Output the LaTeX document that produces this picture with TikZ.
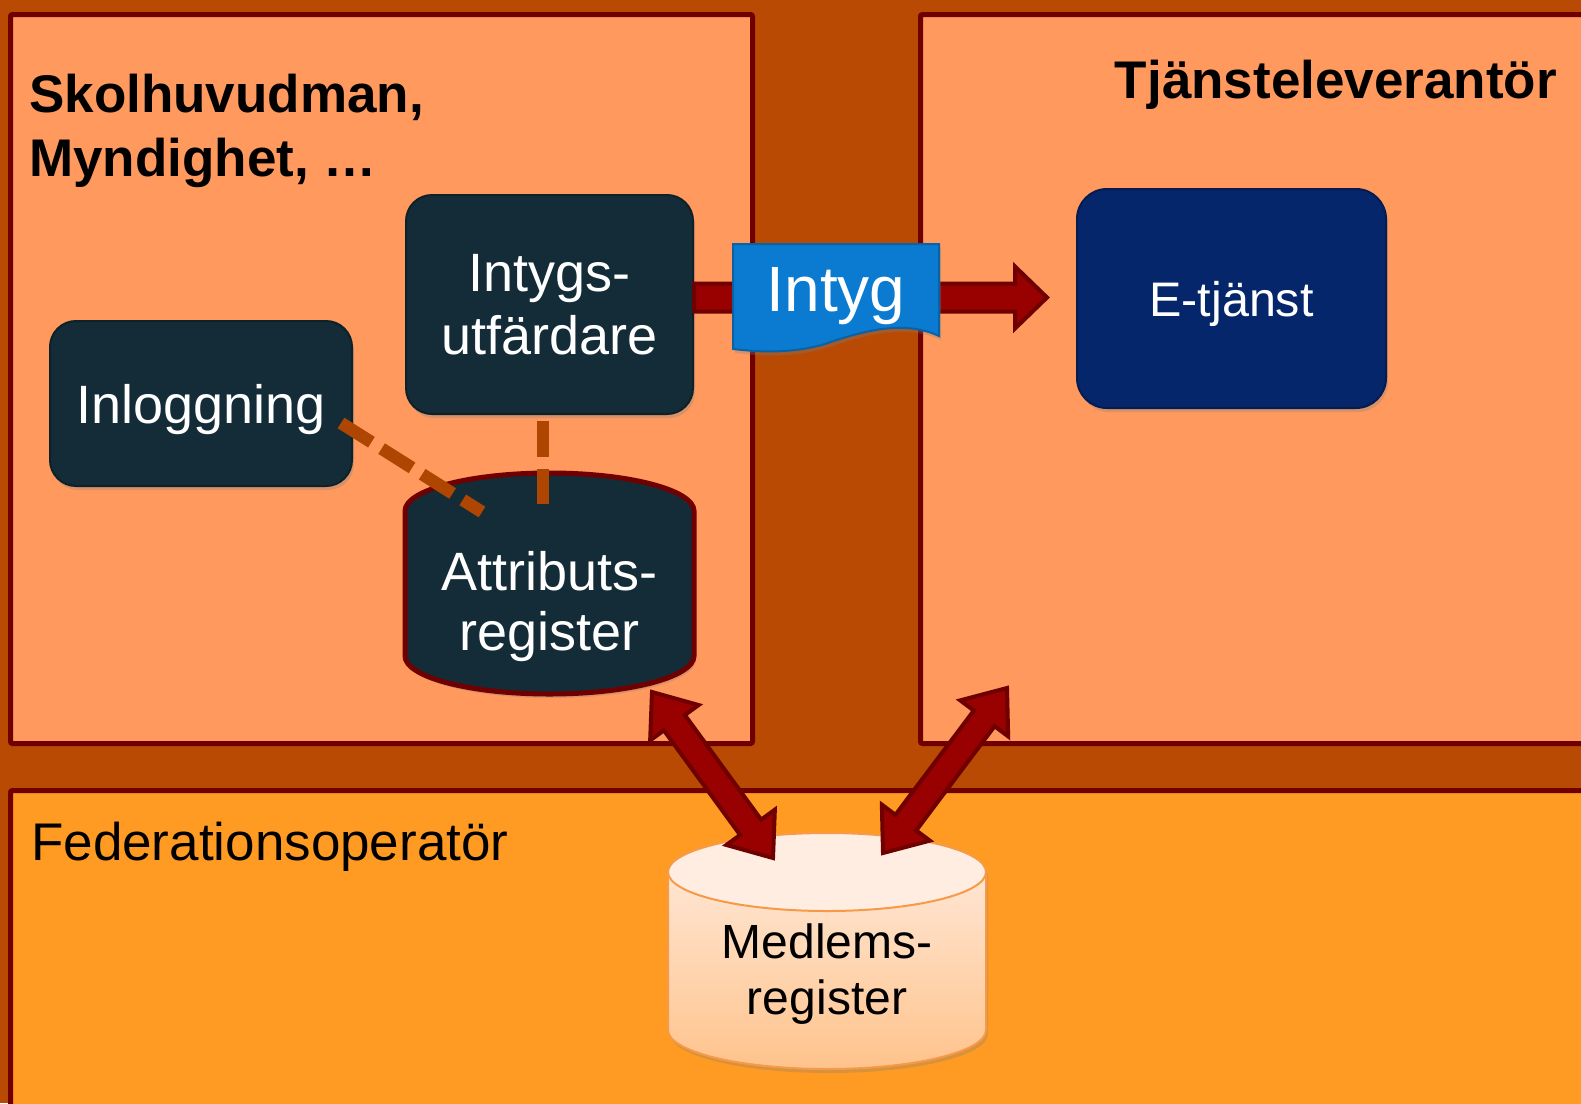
\documentclass[tikz,border=0pt]{standalone}
\usepackage{fontspec}
\setmainfont{Liberation Sans}
\usetikzlibrary{calc,shadows}
\definecolor{bgc}{HTML}{B94A04}
\definecolor{regc}{HTML}{FF995E}
\definecolor{botc}{HTML}{FF9B22}
\definecolor{edgec}{HTML}{700000}
\definecolor{darkn}{HTML}{132C37}
\definecolor{navyc}{HTML}{06266B}
\definecolor{bluec}{HTML}{0A7BD0}
\definecolor{arrf}{HTML}{990000}
\definecolor{arrd}{HTML}{6E0000}
\definecolor{dashc}{HTML}{AE4500}
\definecolor{medtop}{HTML}{FFEDE1}
\definecolor{medbot}{HTML}{FFC38C}
\definecolor{medline}{HTML}{F79A48}
\tikzset{
  region/.style={draw=edgec, line width=5pt, rounded corners=2pt},
  softshadow/.style={drop shadow={opacity=0.3, shadow xshift=2pt, shadow yshift=-4pt}},
  darkbox/.style={fill=darkn, draw=darkn!75!black, line width=2pt, rounded corners=26pt,
    text=white, font=\fontsize{54}{63}\selectfont, align=center, softshadow},
  navybox/.style={fill=navyc, draw=navyc!75!black, line width=2pt, rounded corners=30pt,
    text=white, font=\fontsize{48.5}{56}\selectfont, align=center, softshadow},
  title/.style={font=\bfseries\fontsize{53}{63}\selectfont, inner sep=0pt, text=black},
  plaintitle/.style={font=\fontsize{53}{63}\selectfont, inner sep=0pt, text=black},
  blockarrow/.style={fill=arrf, draw=arrd, line width=4pt, line join=miter},
  dashlink/.style={draw=dashc, line width=12.5pt, dash pattern=on 36pt off 12pt},
}
\newcommand\singlearrowpath[5]{%
  \draw[blockarrow] ($(#1)!#5!90:(#2)$) -- ($(#2)!#3!(#1)!#5!-90:(#1)$) -- ($(#2)!#3!(#1)!#4!-90:(#1)$)
   -- (#2) -- ($(#2)!#3!(#1)!#4!90:(#1)$) -- ($(#2)!#3!(#1)!#5!90:(#1)$) -- ($(#1)!#5!-90:(#2)$) -- cycle;}
\newcommand\doublearrowpath[5]{%
  \draw[blockarrow] (#1) -- ($(#1)!#3!(#2)!#4!90:(#2)$) -- ($(#1)!#3!(#2)!#5!90:(#2)$)
   -- ($(#2)!#3!(#1)!#5!-90:(#1)$) -- ($(#2)!#3!(#1)!#4!-90:(#1)$) -- (#2)
   -- ($(#2)!#3!(#1)!#4!90:(#1)$) -- ($(#2)!#3!(#1)!#5!90:(#1)$)
   -- ($(#1)!#3!(#2)!#5!-90:(#2)$) -- ($(#1)!#3!(#2)!#4!-90:(#2)$) -- cycle;}
\begin{document}
\begin{tikzpicture}[x=1pt,y=-1pt]
\useasboundingbox (0,0) rectangle (1581,1103);
\clip (0,0) rectangle (1581,1103);
\fill[bgc] (0,0) rectangle (1581,1103);
% regions
\node[region, fill=regc, minimum width=742, minimum height=729, anchor=north west] (left) at (8,12) {};
\node[region, fill=regc, minimum width=700, minimum height=729, anchor=north west] (right) at (918,12) {};
\node[region, fill=botc, minimum width=1620, minimum height=340, anchor=north west] (bottom) at (8,788) {};
% titles
\node[title, anchor=base west] (t1) at (29,112) {Skolhuvudman,};
\node[title, anchor=base west] (t2) at (29,176) {Myndighet, …};
\node[title, anchor=base east] (t3) at (1557,98) {Tjänsteleverantör};
\node[plaintitle, anchor=base west] (t4) at (31,860) {Federationsoperatör};
% dark nodes
\node[darkbox, minimum width=302, minimum height=165, text depth=0pt] (inlog) at (201,403.5) {Inloggning};
\node[darkbox, minimum width=287, minimum height=219] (intygs) at (549.5,304.5) {Intygs-\\utfärdare};
\node[navybox, minimum width=309, minimum height=219, text depth=0pt] (etj) at (1231.5,298.5) {E-tjänst};
% Attributs-register cylinder
\path[fill=darkn, draw=edgec, line width=5pt, softshadow]
  (405,511) -- (405,656) arc[start angle=180, end angle=0, x radius=144.5, y radius=38]
  -- (694,511) arc[start angle=0, end angle=-180, x radius=144.5, y radius=38] -- cycle;
\node[text=white, font=\fontsize{54}{60}\selectfont, align=center] (attr) at (549.5,607) {Attributs-\\register};
% Medlems-register cylinder
\path[top color=medtop, bottom color=medbot, draw=medline, line width=2pt, softshadow]
  (668,872) -- (668,1030) arc[start angle=180, end angle=0, x radius=159, y radius=39]
  -- (986,872) arc[start angle=0, end angle=-180, x radius=159, y radius=39] -- cycle;
\draw[fill=medtop, draw=medline, line width=2pt] (827,872) ellipse[x radius=159, y radius=39];
\node[text=black, font=\fontsize{48}{56}\selectfont, align=center] (medl) at (827,974.5) {Medlems-\\register};
% connector end points
\coordinate (inlogOut) at ($(inlog.east)+(-12,19.5)$);
\coordinate (attrTopA) at (482,512);
\coordinate (intygsOut) at ($(intygs.south)+(-6.5,6)$);
\coordinate (attrTopB) at (543,504);
\coordinate (arrStart) at ($(intygs.east)+(0,-7)$);
\coordinate (etjIn) at ($(etj.west)+(-29,-1)$);
\coordinate (attrBot) at (652,692);
\coordinate (medlTopL) at (773,858);
\coordinate (rightBot) at (1007,688);
\coordinate (medlTopR) at (883,853);
% dashed links
\draw[dashlink] (inlogOut) -- (attrTopA);
\draw[dashlink] (intygsOut) -- (attrTopB);
% main arrow
\singlearrowpath{arrStart}{etjIn}{32pt}{31pt}{14pt}
% Intyg banner
\path[fill=bluec, draw=bluec!80!black, line width=2pt, softshadow]
  (733,244) -- (939,244) -- (939,336) .. controls (905,320) and (865,330) .. (825,344)
  .. controls (790,354) and (760,352) .. (733,349) -- cycle;
\node[text=white, font=\fontsize{64}{70}\selectfont] (intyg) at (836,296) {Intyg};
% double arrows
\doublearrowpath{attrBot}{medlTopL}{38pt}{30pt}{13pt}
\doublearrowpath{rightBot}{medlTopR}{38pt}{30pt}{13pt}
\end{tikzpicture}
\end{document}
